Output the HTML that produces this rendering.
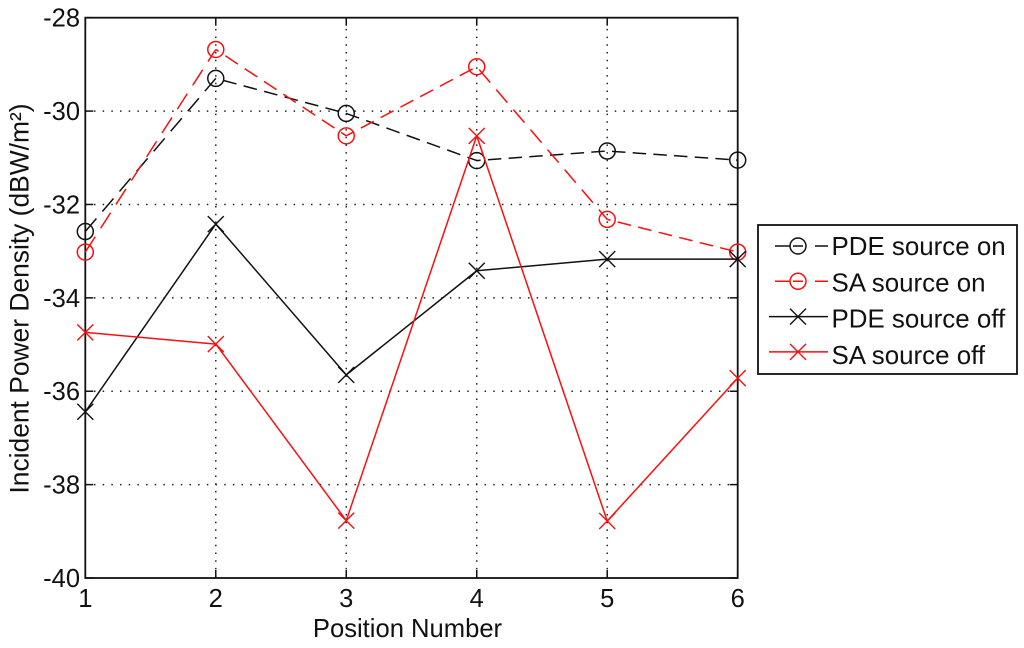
<!DOCTYPE html>
<html>
<head>
<meta charset="utf-8">
<style>
html,body{margin:0;padding:0;background:#fff;}
svg{display:block;}
text{font-family:"Liberation Sans",sans-serif;fill:#111;}
</style>
</head>
<body>
<svg id="chart" width="1024" height="648" viewBox="0 0 1024 648" xmlns="http://www.w3.org/2000/svg"></svg>
<script>
const positions = [1, 2, 3, 4, 5, 6];
const yTicks = [-40, -38, -36, -34, -32, -30, -28];
const pdeSourceOn = [-32.58, -29.3, -30.05, -31.06, -30.855, -31.05];
const saSourceOn = [-33.02, -28.68, -30.53, -29.05, -32.32, -33.02];
const pdeSourceOff = [-36.44, -32.42, -35.65, -33.42, -33.17, -33.17];
const saSourceOff = [-34.74, -34.99, -38.77, -30.53, -38.78, -35.72];
const seriesNames = ["PDE source on", "SA source on", "PDE source off", "SA source off"];

const NS = "http://www.w3.org/2000/svg";
const svg = document.getElementById("chart");
const L = 85.3, R = 737.7, T = 17.7, B = 578;
const RED = "#fa0f0f", INK = "#111";
const xScale = v => L + (v - 1) / 5 * (R - L);
const yScale = v => B - (v + 40) / 12 * (B - T);

function make(tag, attrs, parent) {
  const el = document.createElementNS(NS, tag);
  for (const k in attrs) el.setAttribute(k, attrs[k]);
  (parent || svg).appendChild(el);
  return el;
}

// grid lines
positions.slice(1, -1).forEach(p => {
  const g = make("line", {x1: xScale(p), x2: xScale(p), y1: B, y2: T, stroke: "#222", "stroke-width": 1.5, "stroke-dasharray": "1.5 6.2", "stroke-dashoffset": -0.9});
  
  
});
yTicks.slice(1, -1).forEach(t => {
  const g = make("line", {x1: L, x2: R, y1: yScale(t), y2: yScale(t), stroke: "#222", "stroke-width": 1.5, "stroke-dasharray": "1.5 7.18"});
  
  
});

// plot frame
const frame = make("rect", {x: L, y: T, width: R - L, height: B - T, fill: "none", stroke: INK, "stroke-width": 1.8});



// ticks and tick labels
positions.forEach(p => {
  const x = xScale(p);
  const t1 = make("line", {x1: x, x2: x, y1: B, y2: B - 8, stroke: INK, "stroke-width": 1.5});
  
  
  const t2 = make("line", {x1: x, x2: x, y1: T, y2: T + 8, stroke: INK, "stroke-width": 1.5});
  
  
  const lb = make("text", {x: x, y: 607, "text-anchor": "middle", "font-size": 25.5});
  
  
  lb.textContent = p;
});
yTicks.forEach(v => {
  const y = yScale(v);
  const t1 = make("line", {x1: L, x2: L + 8, y1: y, y2: y, stroke: INK, "stroke-width": 1.5});
  
  
  const t2 = make("line", {x1: R, x2: R - 8, y1: y, y2: y, stroke: INK, "stroke-width": 1.5});
  
  
  const lb = make("text", {x: 80, y: y + 9, "text-anchor": "end", "font-size": 25.5});
  
  
  lb.textContent = v;
});

// axis titles
const xt = make("text", {x: 407.5, y: 637, "text-anchor": "middle", "font-size": 25.6});


xt.textContent = "Position Number";
const yt = make("text", {x: 28.5, y: 298.5, "text-anchor": "middle", "font-size": 26.4, transform: "rotate(-90 28.5 298.5)"});


yt.textContent = "Incident Power Density (dBW/m²)";

function drawMarker(kind, x, y, color, parent, r) {
  if (kind === "o") {
    const m = make("circle", {cx: x, cy: y, r: r, fill: "none", stroke: color, "stroke-width": 1.5}, parent);
    
    
  } else {
    const m = make("path", {d: `M${x-r} ${y-r}L${x+r} ${y+r}M${x-r} ${y+r}L${x+r} ${y-r}`, fill: "none", stroke: color, "stroke-width": 1.4}, parent);
    
    
  }
}

// The source image was stretched unevenly, so dash lengths depend on direction.
const DASH_PERIOD_X = 20.7, DASH_PERIOD_Y = 35.5, DASH_FRACTION = 0.65;

function drawSeries(values, color, dashed, kind, name) {
  const g = make("g", {});
  
  
  let phase = 0;
  for (let i = 0; i < values.length - 1; i++) {
    const x1 = xScale(positions[i]), y1 = yScale(values[i]);
    const x2 = xScale(positions[i + 1]), y2 = yScale(values[i + 1]);
    const attrs = {x1: x1, y1: y1, x2: x2, y2: y2, stroke: color, "stroke-width": 1.5};
    if (dashed) {
      const dx = x2 - x1, dy = y2 - y1;
      const len = Math.hypot(dx, dy);
      const periods = Math.hypot(dx / DASH_PERIOD_X, dy / DASH_PERIOD_Y);
      const period = len / periods;
      attrs["stroke-dasharray"] = (period * DASH_FRACTION) + " " + (period * (1 - DASH_FRACTION));
      attrs["stroke-dashoffset"] = phase * period;
      phase = (phase + periods) % 1;
    }
    const line = make("line", attrs, g);
    
    
  }
  values.forEach((v, i) => drawMarker(kind, xScale(positions[i]), yScale(v), color, g, 8));
}

drawSeries(pdeSourceOn, INK, true, "o", "series-pde-source-on");
drawSeries(saSourceOn, RED, true, "o", "series-sa-source-on");
drawSeries(pdeSourceOff, INK, false, "x", "series-pde-source-off");
drawSeries(saSourceOff, RED, false, "x", "series-sa-source-off");

// legend
const legend = make("g", {});


const box = make("rect", {x: 758, y: 225, width: 259, height: 149, fill: "#fff", stroke: INK, "stroke-width": 1.8}, legend);


const legendColors = [INK, RED, INK, RED];
const legendDashed = [true, true, false, false];
const legendKinds = ["o", "o", "x", "x"];
seriesNames.forEach((n, i) => {
  const y = 246 + i * 35.3;
  const e = make("g", {}, legend);
  
  
  const a = {x1: legendDashed[i] ? 775 : 769, x2: 828, y1: y, y2: y, stroke: legendColors[i], "stroke-width": 1.5};
  if (legendDashed[i]) a["stroke-dasharray"] = "15 3 10 12 13";
  const ln = make("line", a, e);
  
  
  drawMarker(legendKinds[i], 798, y, legendColors[i], e, 8);
  const tx = make("text", {x: 831.5, y: 255 + i * 36.3, "font-size": 25.9}, e);
  
  
  tx.textContent = n;
});
</script>
</body>
</html>
